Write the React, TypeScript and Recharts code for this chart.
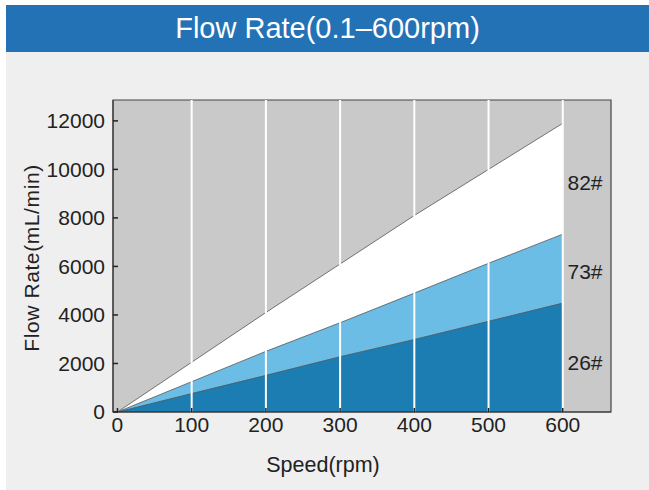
import {
  AreaChart,
  Area,
  XAxis,
  YAxis,
  CartesianGrid,
  ReferenceLine,
  ReferenceArea,
  ReferenceDot,
  Label,
} from 'recharts';

// Pump speed (rpm) vs flow per tubing size at each gridline
const speeds = [0, 100, 200, 300, 400, 500, 600];
const flow82 = [0, 2050, 4100, 6100, 8100, 10000, 11900];
const flow73 = [0, 1250, 2500, 3680, 4900, 6130, 7330];
const flow26 = [0, 760, 1510, 2280, 2990, 3740, 4490];

const yTicks = [0, 2000, 4000, 6000, 8000, 10000, 12000];
const gridSpeeds = [100, 200, 300, 400, 500, 600];

// tube labels sit in the strip right of 600rpm
const tubeLabels = [
  { name: '82#', y: 9440 },
  { name: '73#', y: 5770 },
  { name: '26#', y: 2050 },
];

const data = speeds.map((s, i) => ({
  speed: s,
  t82: flow82[i],
  t73: flow73[i],
  t26: flow26[i],
}));

const textColor = '#222';
const font = '"Liberation Sans", Arial, sans-serif';

export default function App() {
  return (
    <div
      style={{
        position: 'absolute',
        left: 0,
        top: 0,
        width: 649,
        height: 490,
        background: '#fff',
        overflow: 'hidden',
        fontFamily: font,
      }}
    >
      <div style={{ position: 'absolute', left: 6, top: 52, right: 0, bottom: 0, background: '#efefef' }} />
      <div
        style={{
          position: 'absolute',
          left: 6,
          top: 5,
          right: 0,
          height: 47,
          background: '#2472b6',
          color: '#fff',
          fontSize: 29,
          display: 'flex',
          alignItems: 'center',
          justifyContent: 'center',
        }}
      >
        Flow Rate(0.1–600rpm)
      </div>
      <div style={{ position: 'absolute', left: 0, top: 0 }}>
        <AreaChart width={649} height={490} data={data} margin={{ top: 100, right: 38, bottom: 38, left: 0 }}>
          <CartesianGrid fill="#c9c9c9" horizontal={false} vertical={false} />
          <XAxis
            dataKey="speed"
            type="number"
            domain={[-6, 665]}
            ticks={speeds}
            allowDataOverflow
            height={40}
            tickSize={-4}
            tickMargin={9}
            axisLine={{ stroke: '#333' }}
            tickLine={{ stroke: '#222', strokeWidth: 1.5 }}
            tick={{ fill: textColor, fontSize: 21 }}
          >
            <Label
              content={() => (
                <text x={323} y={465} textAnchor="middle" dominantBaseline="central" fill={textColor} fontSize={21.5}>
                  Speed(rpm)
                </text>
              )}
            />
          </XAxis>
          <YAxis
            type="number"
            domain={[0, 12860]}
            ticks={yTicks}
            allowDataOverflow
            width={113}
            tickSize={-5}
            tickMargin={13}
            axisLine={{ stroke: '#333' }}
            tickLine={{ stroke: '#222', strokeWidth: 1.5 }}
            tick={{ fill: textColor, fontSize: 21 }}
          >
            <Label
              content={() => (
                <text
                  x={31}
                  y={258}
                  transform="rotate(-90 31 258)"
                  textAnchor="middle"
                  dominantBaseline="central"
                  fill={textColor}
                  fontSize={21}
                  letterSpacing={0.6}
                >
                  Flow Rate(mL/min)
                </text>
              )}
            />
          </YAxis>
          <Area
            type="linear"
            dataKey="t82"
            stroke="#555"
            strokeWidth={0.8}
            fill="#ffffff"
            fillOpacity={1}
            isAnimationActive={false}
          />
          <Area
            type="linear"
            dataKey="t73"
            stroke="#555"
            strokeWidth={0.8}
            fill="#6cbde6"
            fillOpacity={1}
            isAnimationActive={false}
          />
          <Area
            type="linear"
            dataKey="t26"
            stroke="#555"
            strokeWidth={0.8}
            fill="#1b7db1"
            fillOpacity={1}
            isAnimationActive={false}
          />
          {gridSpeeds.map((s) => (
            <ReferenceLine key={s} x={s} stroke="#fff" strokeWidth={2} />
          ))}
          <ReferenceArea x1={-6} x2={665} y1={0} y2={12860} fill="none" stroke="#444" strokeWidth={1.2} />
          {tubeLabels.map((t) => (
            <ReferenceDot
              key={t.name}
              x={630}
              y={t.y}
              r={1}
              fill="none"
              stroke="none"
              label={{ value: t.name, position: 'center', fill: textColor, fontSize: 21 }}
            />
          ))}
        </AreaChart>
      </div>
    </div>
  );
}
